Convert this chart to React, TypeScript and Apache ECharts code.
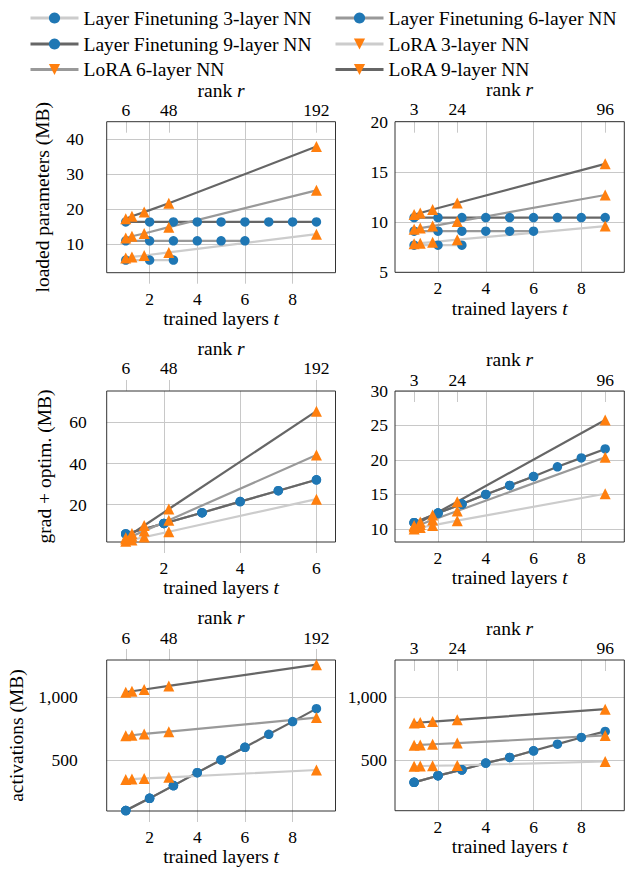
import React, { useEffect, useRef } from 'react';
import * as echarts from 'echarts';

const FONT = '"Liberation Serif", "Times New Roman", serif';
const GRID_COLOR = '#c8c8c8';
const LIGHT = '#cccccc';
const MID = '#999999';
const DARK = '#666666';
const BLUE = '#1f77b4';
const ORANGE = '#ff7f0e';

// x values
const layers3 = [1, 2, 3];
const layers6 = [1, 2, 3, 4, 5, 6];
const layers9 = [1, 2, 3, 4, 5, 6, 7, 8, 9];
const ranksLarge = [6, 12, 24, 48, 192];
const ranksSmall = [3, 6, 12, 24, 96];

// tick labels
const layerTicks9 = [2, 4, 6, 8];
const layerTicks6 = [2, 4, 6];
const rankTicksLarge = [6, 48, 192];
const rankTicksSmall = [3, 24, 96];
const loadedTicksLarge = [10, 20, 30, 40];
const loadedTicksSmall = [5, 10, 15, 20];
const gradTicksLarge = [20, 40, 60];
const gradTicksSmall = [10, 15, 20, 25, 30];
const actTicks = [500, 1000];

// loaded parameters (MB), larger networks
const loadedL_lf3 = [5.5, 5.5, 5.5];
const loadedL_lf6 = [11.0, 11.0, 11.0, 11.0, 11.0, 11.0];
const loadedL_lf9 = [16.4, 16.4, 16.4, 16.4, 16.4, 16.4, 16.4, 16.4, 16.4];
const loadedL_lora3 = [6.1, 6.4, 6.8, 7.7, 12.9];
const loadedL_lora6 = [11.8, 12.3, 13.1, 14.9, 25.4];
const loadedL_lora9 = [17.3, 18.0, 19.2, 21.7, 37.9];

// loaded parameters (MB), smaller networks
const loadedS_lf3 = [7.7, 7.7, 7.7];
const loadedS_lf6 = [9.1, 9.1, 9.1, 9.1, 9.1, 9.1];
const loadedS_lf9 = [10.45, 10.45, 10.45, 10.45, 10.45, 10.45, 10.45, 10.45, 10.45];
const loadedS_lora3 = [7.85, 7.9, 8.0, 8.25, 9.6];
const loadedS_lora6 = [9.3, 9.4, 9.6, 10.05, 12.7];
const loadedS_lora9 = [10.75, 10.9, 11.25, 11.9, 15.8];

// grad + optim. (MB), larger networks
const gradL_lf = [5.8, 10.9, 16.1, 21.5, 26.8, 32.1];
const gradL_lora3 = [2.3, 2.9, 4.3, 6.9, 22.7];
const gradL_lora6 = [3.3, 4.7, 7.3, 12.5, 44.1];
const gradL_lora9 = [4.0, 6.0, 9.9, 17.9, 65.4];

// grad + optim. (MB), smaller networks
const gradS_lf = [10.9, 12.3, 13.6, 15.0, 16.3, 17.6, 19.0, 20.3, 21.6];
const gradS_lora3 = [10.0, 10.2, 10.5, 11.2, 15.1];
const gradS_lora6 = [10.3, 10.65, 11.3, 12.6, 20.4];
const gradS_lora9 = [10.5, 11.0, 12.0, 13.95, 25.8];

// activations (MB), larger networks
const actL_lf = [101, 198, 299, 402, 503, 603, 706, 807, 910];
const actL_lora3 = [348, 351, 356, 365, 423];
const actL_lora6 = [695, 699, 709, 727, 839];
const actL_lora9 = [1041, 1048, 1062, 1090, 1259];

// activations (MB), smaller networks
const actS_lf = [323, 376, 423, 476, 521, 574, 627, 680, 728];
const actS_lora3 = [452, 453, 455, 458, 489];
const actS_lora6 = [618, 621, 626, 635, 696];
const actS_lora9 = [796, 799, 806, 820, 905];

const NAMES = {
  lf3: 'Layer Finetuning 3-layer NN',
  lf6: 'Layer Finetuning 6-layer NN',
  lf9: 'Layer Finetuning 9-layer NN',
  lora3: 'LoRA 3-layer NN',
  lora6: 'LoRA 6-layer NN',
  lora9: 'LoRA 9-layer NN',
};

const zip = (xs: number[], ys: number[]) => ys.map((y, i) => [xs[i], y]);

const panels = [
  {
    left: 106.7, top: 121.7, width: 228.8, height: 151,
    tMin: 0.2, tMax: 9.8, tTicks: layerTicks9, rMin: -12.6, rMax: 210.6, rTicks: rankTicksLarge, ranks: ranksLarge,
    yMin: 1.9, yMax: 45, yTicks: loadedTicksLarge, yName: 'loaded parameters (MB)',
    leftSide: true, topInside: true, topMargin: 2.5, topNameGap: 18, bottomMargin: 17, bottomNameGap: 34.3, yMargin: 23, yNameGap: 55,
    lf3: zip(layers3, loadedL_lf3), lf6: zip(layers6, loadedL_lf6), lf9: zip(layers9, loadedL_lf9),
    lora3: loadedL_lora3, lora6: loadedL_lora6, lora9: loadedL_lora9,
  },
  {
    left: 395, top: 121.7, width: 229.3, height: 150.6,
    tMin: 0.2, tMax: 9.8, tTicks: layerTicks9, rMin: -6.3, rMax: 105.3, rTicks: rankTicksSmall, ranks: ranksSmall,
    yMin: 5, yMax: 20, yTicks: loadedTicksSmall, yName: '',
    leftSide: false, topInside: true, topMargin: 3.5, topNameGap: 18, bottomMargin: 7, bottomNameGap: 23.7, yMargin: 7, yNameGap: 40,
    lf3: zip(layers3, loadedS_lf3), lf6: zip(layers6, loadedS_lf6), lf9: zip(layers9, loadedS_lf9),
    lora3: loadedS_lora3, lora6: loadedS_lora6, lora9: loadedS_lora9,
  },
  {
    left: 106.7, top: 391, width: 228.8, height: 151,
    tMin: 0.5, tMax: 6.5, tTicks: layerTicks6, rMin: -12.6, rMax: 210.6, rTicks: rankTicksLarge, ranks: ranksLarge,
    yMin: 1.9, yMax: 75.2, yTicks: gradTicksLarge, yName: 'grad + optim. (MB)',
    leftSide: true, topInside: false, topMargin: 14, topNameGap: 33, bottomMargin: 17, bottomNameGap: 36, yMargin: 20, yNameGap: 53.7,
    lf3: zip(layers3, gradL_lf.slice(0, 3)), lf6: zip(layers6, gradL_lf), lf9: zip(layers6, gradL_lf),
    lora3: gradL_lora3, lora6: gradL_lora6, lora9: gradL_lora9,
  },
  {
    left: 395, top: 391, width: 229.3, height: 151,
    tMin: 0.2, tMax: 9.8, tTicks: layerTicks9, rMin: -6.3, rMax: 105.3, rTicks: rankTicksSmall, ranks: ranksSmall,
    yMin: 8.1, yMax: 30, yTicks: gradTicksSmall, yName: '',
    leftSide: false, topInside: true, topMargin: 2.5, topNameGap: 21, bottomMargin: 7, bottomNameGap: 24, yMargin: 7, yNameGap: 40,
    lf3: zip(layers3, gradS_lf.slice(0, 3)), lf6: zip(layers6, gradS_lf.slice(0, 6)), lf9: zip(layers9, gradS_lf),
    lora3: gradS_lora3, lora6: gradS_lora6, lora9: gradS_lora9,
  },
  {
    left: 106.7, top: 660, width: 228.8, height: 151,
    tMin: 0.2, tMax: 9.8, tTicks: layerTicks9, rMin: -12.6, rMax: 210.6, rTicks: rankTicksLarge, ranks: ranksLarge,
    yMin: 97.6, yMax: 1296, yTicks: actTicks, yName: 'activations (MB)',
    leftSide: true, topInside: false, topMargin: 13.5, topNameGap: 32, bottomMargin: 17, bottomNameGap: 35, yMargin: 29, yNameGap: 81.7,
    lf3: zip(layers3, actL_lf.slice(0, 3)), lf6: zip(layers6, actL_lf.slice(0, 6)), lf9: zip(layers9, actL_lf),
    lora3: actL_lora3, lora6: actL_lora6, lora9: actL_lora9,
  },
  {
    left: 395, top: 660, width: 229.3, height: 150.7,
    tMin: 0.2, tMax: 9.8, tTicks: layerTicks9, rMin: -6.3, rMax: 105.3, rTicks: rankTicksSmall, ranks: ranksSmall,
    yMin: 97.6, yMax: 1296, yTicks: actTicks, yName: '',
    leftSide: false, topInside: true, topMargin: 3, topNameGap: 22, bottomMargin: 7, bottomNameGap: 20, yMargin: 8, yNameGap: 40,
    lf3: zip(layers3, actS_lf.slice(0, 3)), lf6: zip(layers6, actS_lf.slice(0, 6)), lf9: zip(layers9, actS_lf),
    lora3: actS_lora3, lora6: actS_lora6, lora9: actS_lora9,
  },
];

const legendEntries = [
  { name: NAMES.lf3, left: 29, top: 8, rot: 0 },
  { name: NAMES.lf6, left: 334, top: 8, rot: 0 },
  { name: NAMES.lf9, left: 29, top: 34, rot: 0 },
  { name: NAMES.lora3, left: 334, top: 34, rot: 180 },
  { name: NAMES.lora6, left: 29, top: 59.5, rot: 180 },
  { name: NAMES.lora9, left: 334, top: 59.5, rot: 180 },
];

const numFont = { fontFamily: FONT, fontSize: 17.5, color: '#000' };
const nameFont = {
  fontFamily: FONT, fontSize: 19.5, lineHeight: 18, color: '#000',
  rich: {
    n: { fontFamily: FONT, fontSize: 19.5, lineHeight: 18, color: '#000' },
    i: { fontFamily: FONT, fontSize: 19.5, lineHeight: 18, fontStyle: 'italic', color: '#000' },
  },
};

function buildOption() {
  const grid: any[] = [];
  const xAxis: any[] = [];
  const yAxis: any[] = [];
  const series: any[] = [];
  const tickLine = { color: GRID_COLOR, width: 1 };

  panels.forEach((p, i) => {
    grid.push({
      left: p.left, top: p.top, width: p.width, height: p.height,
      show: true, borderColor: '#333', borderWidth: 1, backgroundColor: 'transparent', z: 1,
    });
    xAxis.push({
      type: 'value', gridIndex: i, position: 'bottom', min: p.tMin, max: p.tMax,
      axisLine: { show: false },
      axisTick: { show: p.leftSide, inside: false, length: 11, lineStyle: tickLine, customValues: p.tTicks },
      axisLabel: { customValues: p.tTicks, margin: p.bottomMargin, ...numFont },
      splitLine: { show: true, lineStyle: tickLine },
      name: '{n|trained layers }{i|t}', nameLocation: 'middle', nameGap: p.bottomNameGap, nameTextStyle: nameFont,
    });
    xAxis.push({
      type: 'value', gridIndex: i, position: 'top', min: p.rMin, max: p.rMax,
      axisLine: { show: false },
      axisTick: { show: true, inside: p.topInside, length: 11, lineStyle: tickLine, customValues: p.rTicks },
      axisLabel: { customValues: p.rTicks, margin: p.topMargin, ...numFont },
      splitLine: { show: false },
      name: '{n|rank }{i|r}', nameLocation: 'middle', nameGap: p.topNameGap, nameTextStyle: nameFont,
    });
    yAxis.push({
      type: 'value', gridIndex: i, min: p.yMin, max: p.yMax,
      axisLine: { show: false },
      axisTick: { show: p.leftSide, inside: false, length: 13, lineStyle: tickLine, customValues: p.yTicks },
      axisLabel: {
        customValues: p.yTicks, margin: p.yMargin, ...numFont,
        formatter: (v: number) => v.toLocaleString('en-US'),
      },
      splitLine: { show: true, lineStyle: tickLine },
      name: p.yName, nameLocation: 'middle', nameGap: p.yNameGap, nameTextStyle: nameFont,
    });
    const bx = 2 * i;
    const tx = 2 * i + 1;
    const mk = (name: string, color: string, xi: number, data: number[][], symbol: string) => ({
      type: 'line', name, xAxisIndex: xi, yAxisIndex: i, data,
      symbol, symbolSize: symbol === 'circle' ? 9.5 : 11,
      itemStyle: { color: symbol === 'circle' ? BLUE : ORANGE, borderWidth: 0 },
      lineStyle: { color, width: 2.2 },
      silent: true, animation: false,
    });
    series.push(mk(NAMES.lf3, LIGHT, bx, p.lf3, 'circle'));
    series.push(mk(NAMES.lf6, MID, bx, p.lf6, 'circle'));
    series.push(mk(NAMES.lf9, DARK, bx, p.lf9, 'circle'));
    series.push(mk(NAMES.lora3, LIGHT, tx, zip(p.ranks, p.lora3), 'triangle'));
    series.push(mk(NAMES.lora6, MID, tx, zip(p.ranks, p.lora6), 'triangle'));
    series.push(mk(NAMES.lora9, DARK, tx, zip(p.ranks, p.lora9), 'triangle'));
  });

  const legend = legendEntries.map((e) => ({
    data: [e.name], left: e.left, top: e.top, padding: 0, orient: 'horizontal',
    itemWidth: 48, itemHeight: 14, selectedMode: false, symbolRotate: e.rot,
    lineStyle: { width: 3 },
    textStyle: { fontFamily: FONT, fontSize: 19.5, lineHeight: 18, color: '#000' },
  }));

  return {
    animation: false, backgroundColor: '#fff',
    textStyle: { fontFamily: FONT, color: '#000' },
    grid, xAxis, yAxis, series, legend,
  };
}

export default function App() {
  const ref = useRef<HTMLDivElement>(null);
  useEffect(() => {
    if (!ref.current) return;
    const chart = echarts.init(ref.current, undefined, { renderer: 'svg' });
    chart.setOption(buildOption() as any);
    return () => chart.dispose();
  }, []);
  return (
    <div
      ref={ref}
      style={{ position: 'fixed', left: 0, top: 0, width: 630, height: 872, background: '#fff' }}
    />
  );
}
